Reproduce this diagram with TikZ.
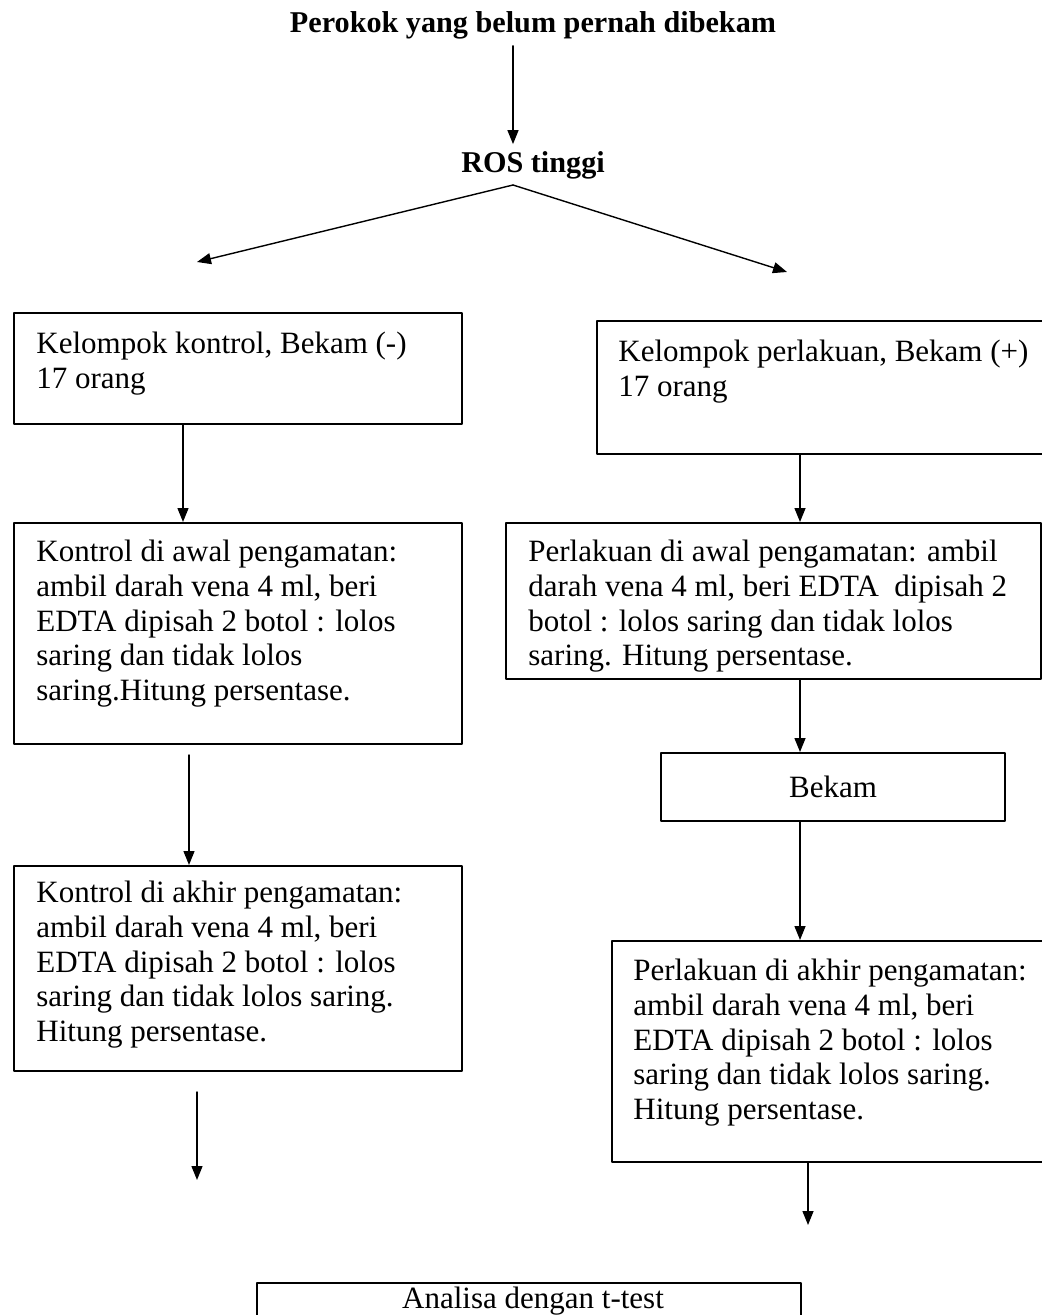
\documentclass[tikz,border=0pt]{standalone}
\usepackage{fontspec}
\setmainfont{Liberation Serif}
\usetikzlibrary{arrows.meta}
\usetikzlibrary{positioning}
\tikzset{
	kotak/.style={draw=black, line width=1pt, anchor=north west, inner sep=0pt},
	isi/.style={anchor=north west, align=left, inner sep=0pt, font=\fontsize{15.5}{17.3}\selectfont},
	judulfont/.style={font=\fontsize{15.1}{17.3}\selectfont\bfseries},
	panah/.style={-{Triangle[length=7pt,width=5.5pt]}, line width=0.7pt},
}

\begin{document}
\begin{tikzpicture}[line cap=round,line join=round, x=0.5pt, y=-0.5pt]
	\useasboundingbox (0,0) rectangle (1042,1315);
	\node[judulfont] (judul) at (533,25) {Perokok yang belum pernah dibekam};
	\node[judulfont] (ros) at (533,165) {ROS tinggi};
	\coordinate (cabang) at (513,185);
	\coordinate (kiri) at (197,262);
	\coordinate (kanan) at (787,272);
	\coordinate (xa) at (183,0);
	\coordinate (xb) at (189,0);
	\coordinate (xc) at (197,0);
	\coordinate (xr) at (800,0);
	\coordinate (xs) at (808,0);
	\draw[panah] (judul.south -| cabang) -- (ros.north -| cabang);
	\draw[panah] (cabang) -- (kiri);
	\draw[panah] (cabang) -- (kanan);
	% kelompok kontrol
	\node[kotak, minimum width=224pt, minimum height=55.5pt] (k1) at (13,312) {};
	\node[isi] (k1t) at (36,332) {Kelompok kontrol, Bekam (-)\\17 orang};
	\node[kotak, minimum width=224pt, minimum height=110.5pt] (k2) at (13,522) {};
	\node[isi] (k2t) at (36,540) {Kontrol di awal pengamatan:\\ambil darah vena 4 ml, beri\\EDTA dipisah 2 botol : lolos\\saring dan tidak lolos\\saring.Hitung persentase.};
	\node[kotak, minimum width=224pt, minimum height=102.5pt] (k3) at (13,865) {};
	\node[isi] (k3t) at (36,881) {Kontrol di akhir pengamatan:\\ambil darah vena 4 ml, beri\\EDTA dipisah 2 botol : lolos\\saring dan tidak lolos saring.\\Hitung persentase.};
	\coordinate (ujungkiri) at (197,1180);
	\draw[panah] (xa |- k1.south) -- (xa |- k2.north);
	\draw[panah] ([yshift=-5pt]xb |- k2.south) -- (xb |- k3.north);
	\draw[panah] ([yshift=-10pt]xc |- k3.south) -- (ujungkiri);
	% kelompok perlakuan
	\node[kotak, minimum width=232pt, minimum height=66.5pt] (r1) at (596,320) {};
	\node[isi] (r1t) at (618,340) {Kelompok perlakuan, Bekam (+)\\17 orang};
	\node[kotak, minimum width=267.5pt, minimum height=78pt] (r2) at (505,522) {};
	\node[isi] (r2t) at (528,540) {Perlakuan di awal pengamatan: ambil\\darah vena 4 ml, beri EDTA\ \ dipisah 2\\botol : lolos saring dan tidak lolos\\saring. Hitung persentase.};
	\node[kotak, minimum width=172pt, minimum height=34pt, isi, anchor=north west, align=center, draw] (bekam) at (660,752) {Bekam};
	\node[kotak, minimum width=224.5pt, minimum height=110.5pt] (r3) at (611,940) {};
	\node[isi] (r3t) at (633,959) {Perlakuan di akhir pengamatan:\\ambil darah vena 4 ml, beri\\EDTA dipisah 2 botol : lolos\\saring dan tidak lolos saring.\\Hitung persentase.};
	\coordinate (ujungkanan) at (808,1225);
	\draw[panah] (xr |- r1.south) -- (xr |- r2.north);
	\draw[panah] (xr |- r2.south) -- (xr |- bekam.north);
	\draw[panah] (xr |- bekam.south) -- (xr |- r3.north);
	\draw[panah] (xs |- r3.south) -- (ujungkanan);
	% analisa
	\node[kotak, minimum width=272pt, minimum height=30pt] (analisa) at (256,1282) {};
	\node[isi, anchor=base] (analisat) at (533,1308) {Analisa dengan t-test};
\end{tikzpicture}
\end{document}
